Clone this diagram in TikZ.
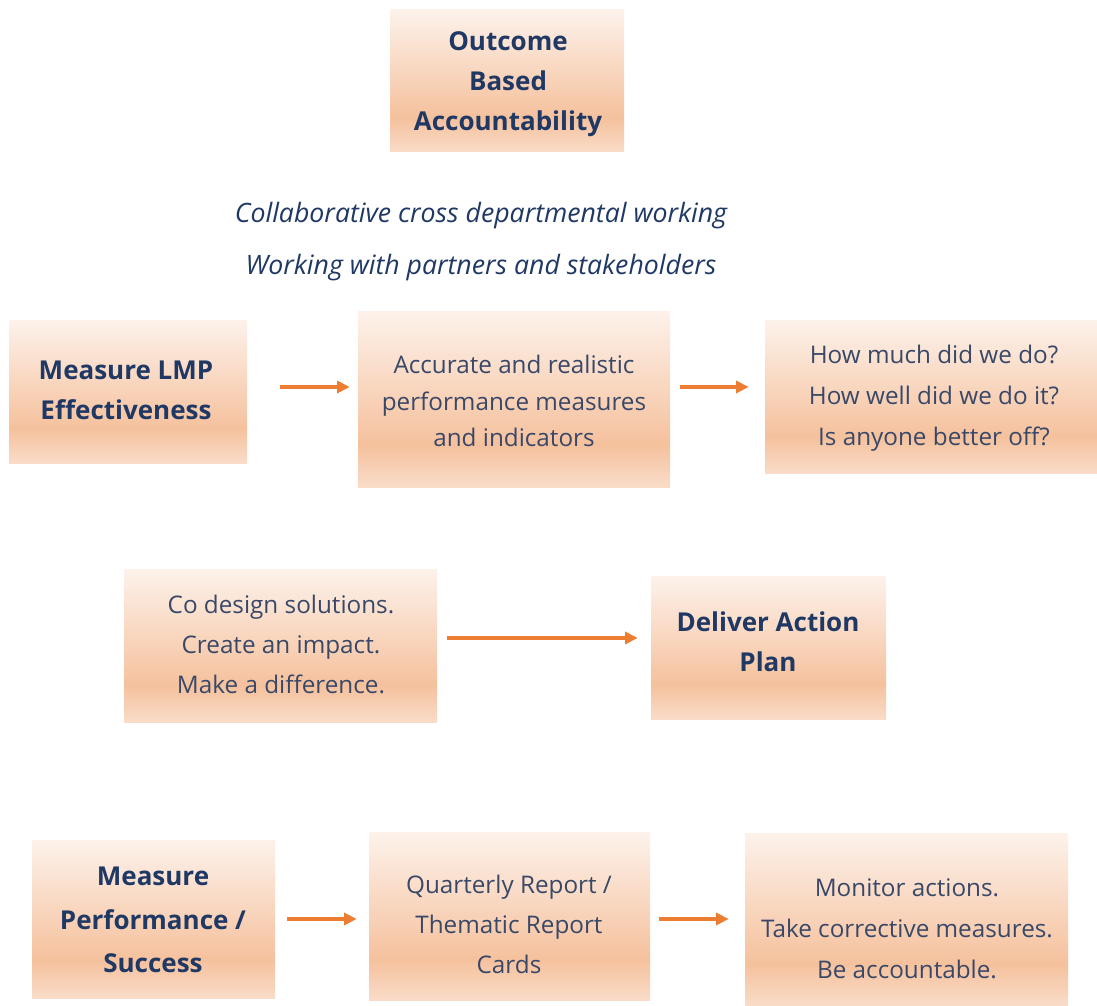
\documentclass[tikz,border=0pt]{standalone}
\usepackage{fontspec}
\setmainfont{Open Sans}
\usetikzlibrary{arrows.meta,calc}

\definecolor{boxtop}{HTML}{FDF2EB}
\definecolor{boxmid}{HTML}{F5C19D}
\definecolor{boxbot}{HTML}{F9DCC8}
\definecolor{navybold}{HTML}{1F3864}
\definecolor{navytext}{HTML}{3A4868}
\definecolor{arrowc}{HTML}{ED7D31}

% vertical peach shading: light top, deepest near the bottom, lighter at the foot
\pgfdeclareverticalshading{peach}{100bp}{%
  color(0bp)=(boxbot); color(25bp)=(boxbot); color(37bp)=(boxmid);
  color(75bp)=(boxtop); color(100bp)=(boxtop)}

\tikzset{
  x=0.75pt, y=-0.75pt,
  panel/.style={rectangle, shading=peach, draw=none, inner sep=0pt},
  body/.style={align=center, inner sep=0pt, text=navytext,
    font=\fontsize{18.2}{30}\selectfont},
  head/.style={align=center, inner sep=0pt, text=navybold,
    font=\fontsize{19.5}{30}\selectfont\bfseries},
  motto/.style={text=navybold, font=\fontsize{20}{24}\selectfont\itshape, inner sep=0pt},
  flow/.style={draw=arrowc, line width=2.4pt, -{Triangle[length=9.5pt,width=9pt]}},
}

\begin{document}
\begin{tikzpicture}
\useasboundingbox (0,0) rectangle (1097,1006);

% boxes
\node[panel, minimum width=175.5pt,  minimum height=106.5pt]  (oba)   at (507,81) {};
\node[panel, minimum width=178.5pt,  minimum height=107.25pt] (lmp)   at (128,391.5) {};
\node[panel, minimum width=234pt,    minimum height=132pt]    (acc)   at (514,399) {};
\node[panel, minimum width=249pt,    minimum height=114.75pt] (how)   at (931,396.5) {};
\node[panel, minimum width=234.75pt, minimum height=114.75pt] (codes) at (280.5,645.5) {};
\node[panel, minimum width=176.25pt, minimum height=107.25pt] (plan)  at (768.5,647.5) {};
\node[panel, minimum width=182.25pt, minimum height=118.5pt]  (perf)  at (153.5,919) {};
\node[panel, minimum width=210.75pt, minimum height=126pt]    (rep)   at (509.5,916) {};
\node[panel, minimum width=242.25pt, minimum height=129pt]    (mon)   at (906.5,919) {};

% box texts
\node[head] (oba-t) at (508,84) {Outcome\\Based\\Accountability};
\node[head] (lmp-t) at (126,390) {Measure LMP\\Effectiveness};
\node[body, font=\fontsize{18.2}{27.4}\selectfont] (acc-t) at (514,401)
  {Accurate and realistic\\performance measures\\and indicators};
\node[body, font=\fontsize{18.2}{30.75}\selectfont] (how-t) at (934,398)
  {How much did we do?\\How well did we do it?\\Is anyone better off?};
\node[body] (codes-t) at (281,644) {Co design solutions.\\Create an impact.\\Make a difference.};
\node[head] (plan-t) at (768,642) {Deliver Action\\Plan};
\node[head, font=\fontsize{19.5}{32.6}\selectfont\bfseries] (perf-t) at (153,920)
  {Measure\\Performance /\\Success};
\node[body] (rep-t) at (509,924) {Quarterly Report /\\Thematic Report\\Cards};
\node[body, font=\fontsize{18.2}{30.75}\selectfont] (mon-t) at (907,929)
  {Monitor actions.\\Take corrective measures.\\Be accountable.};

% guiding lines
\node[motto] (m1) at (481,216) {Collaborative cross departmental working};
\node[motto] (m2) at (481,268) {Working with partners and stakeholders};

% arrow rows
\coordinate (r1) at (0,387);
\coordinate (r2) at (0,638);
\coordinate (r3) at (0,919);

\draw[flow] ([xshift=24.75pt]lmp.east |- r1) -- ([xshift=-6pt]acc.west |- r1);
\draw[flow] ([xshift=7.5pt]acc.east |- r1) -- ([xshift=-12pt]how.west |- r1);
\draw[flow] ([xshift=7.5pt]codes.east |- r2) -- ([xshift=-9.75pt]plan.west |- r2);
\draw[flow] ([xshift=9pt]perf.east |- r3) -- ([xshift=-9pt]rep.west |- r3);
\draw[flow] ([xshift=6.75pt]rep.east |- r3) -- ([xshift=-12pt]mon.west |- r3);
\end{tikzpicture}
\end{document}
